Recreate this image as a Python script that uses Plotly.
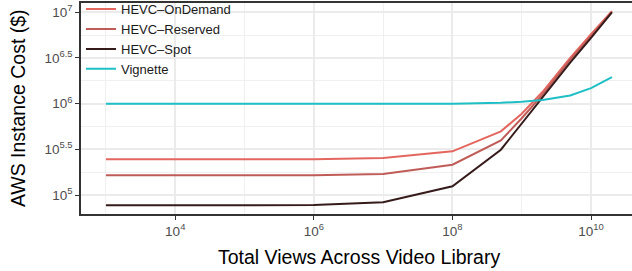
import plotly.graph_objects as go

# ---- data ----
views = [1e3, 1e4, 1e5, 1e6, 1e7, 1e8, 5e8, 1e9, 2e9, 5e9, 1e10, 2e10]

hevc_ondemand = [247000, 247000, 247000, 247000, 253500, 300600, 497700,
                 776000, 1349000, 3162000, 5754000, 10300000]
hevc_reserved = [164400, 164400, 164400, 164400, 169400, 214800, 396300,
                 691800, 1259000, 3020000, 5495000, 10100000]
hevc_spot = [77100, 77100, 77100, 77600, 83200, 124500, 313300,
             602600, 1175000, 2818000, 5248000, 10000000]
vignette = [1000000, 1000000, 1000000, 1000000, 1000000, 1000000, 1023000,
            1047000, 1096000, 1230000, 1479000, 1950000]

series_names = ["HEVC–OnDemand", "HEVC–Reserved", "HEVC–Spot", "Vignette"]
series_values = [hevc_ondemand, hevc_reserved, hevc_spot, vignette]
series_colors = ["#E4675F", "#C05C58", "#361B1B", "#1EBFC5"]

x_tickvals = [1e4, 1e6, 1e8, 1e10]
x_ticktext = ["10<sup>4</sup>", "10<sup>6</sup>", "10<sup>8</sup>", "10<sup>10</sup>"]
x_minor = [1e3, 1e5, 1e7, 1e9]
y_tickvals = [1e5, 10 ** 5.5, 1e6, 10 ** 6.5, 1e7]
y_ticktext = ["10<sup>5</sup>", "10<sup>5.5</sup>", "10<sup>6</sup>",
              "10<sup>6.5</sup>", "10<sup>7</sup>"]
y_minor = [10 ** 5.25, 10 ** 5.75, 10 ** 6.25, 10 ** 6.75]

x_title = "Total Views Across Video Library"
y_title = "AWS Instance Cost ($)"

FONT = "Liberation Sans, Arial, sans-serif"

fig = go.Figure()
for name, vals, col in zip(series_names, series_values, series_colors):
    fig.add_trace(go.Scatter(x=views, y=vals, mode="lines", name=name,
                             line=dict(color=col, width=2)))

fig.update_layout(
    width=632, height=271,
    margin=dict(l=81, r=0, t=3, b=57, autoexpand=False),
    paper_bgcolor="white", plot_bgcolor="white",
    font=dict(family=FONT, color="#000000"),
    showlegend=True,
    legend=dict(x=0.0, y=1.042, xanchor="left", yanchor="top",
                bgcolor="rgba(0,0,0,0)", borderwidth=0,
                font=dict(size=13, color="#1A1A1A", family=FONT),
                itemwidth=30, tracegroupgap=0),
    annotations=[
        dict(text=x_title, xref="paper", yref="paper", x=0.5038, y=-0.2038,
             xanchor="center", yanchor="middle", showarrow=False,
             font=dict(size=19.5, color="#000000", family=FONT)),
        dict(text=y_title, xref="paper", yref="paper", x=-0.1152, y=0.5,
             xanchor="center", yanchor="middle", showarrow=False, textangle=-90,
             font=dict(size=19.5, color="#000000", family=FONT)),
    ],
)

fig.update_xaxes(
    type="log", range=[2.64, 10.591], automargin=False,
    tickmode="array", tickvals=x_tickvals, ticktext=x_ticktext,
    tickfont=dict(size=13.5, color="#4D4D4D"),
    ticks="outside", ticklen=4, tickwidth=1.3, tickcolor="#333333",
    showgrid=True, gridcolor="#EBEBEB", gridwidth=1.6,
    minor=dict(tickvals=x_minor, showgrid=True, gridcolor="#F0F0F0",
               gridwidth=0.9, ticks=""),
    showline=True, linecolor="#333333", linewidth=1.5, mirror=True,
    zeroline=False,
)
fig.update_yaxes(
    type="log", range=[4.792, 7.102], automargin=False,
    tickmode="array", tickvals=y_tickvals, ticktext=y_ticktext,
    tickfont=dict(size=13.5, color="#4D4D4D"),
    ticks="outside", ticklen=4, tickwidth=1.3, tickcolor="#333333",
    showgrid=True, gridcolor="#EBEBEB", gridwidth=1.6,
    minor=dict(tickvals=y_minor, showgrid=True, gridcolor="#F0F0F0",
               gridwidth=0.9, ticks=""),
    showline=True, linecolor="#333333", linewidth=1.5, mirror=False,
    zeroline=False,
)

fig.write_html("out.html",
               config={"displayModeBar": False},
               post_script="document.body.style.margin='0';"
                           "document.body.style.overflow='hidden';")
